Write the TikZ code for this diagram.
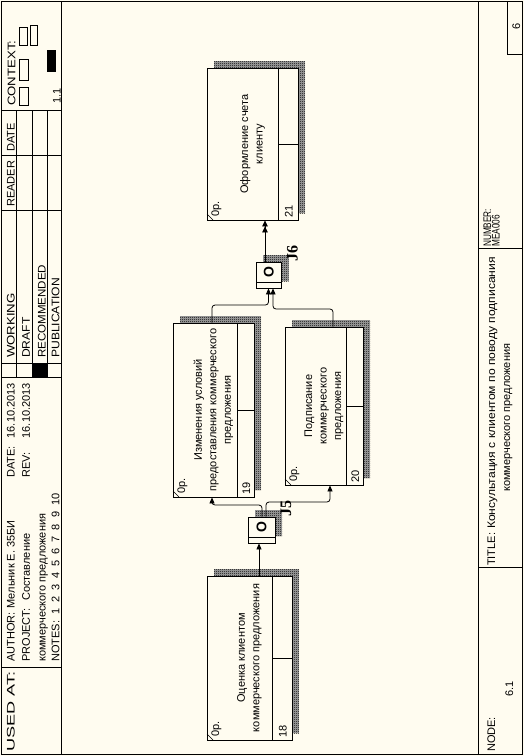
\documentclass[tikz,border=0pt]{standalone}
\usepackage{fontspec}
\usepackage{graphicx}
\setmainfont{Liberation Sans}
\newfontfamily\jfont{Liberation Serif}
\usetikzlibrary{arrows.meta,patterns}
\definecolor{bg}{RGB}{255,252,240}
\pgfdeclarepatternformonly{checker}{\pgfqpoint{0pt}{0pt}}{\pgfqpoint{2pt}{2pt}}{\pgfqpoint{2pt}{2pt}}{%
  \pgfpathrectangle{\pgfqpoint{0pt}{0pt}}{\pgfqpoint{1pt}{1pt}}%
  \pgfpathrectangle{\pgfqpoint{1pt}{1pt}}{\pgfqpoint{1pt}{1pt}}%
  \pgfusepath{fill}}
\tikzset{
  ln/.style={line width=0.8pt},
  ftxt/.style={rotate=90, anchor=base west, inner sep=0pt, font=\fontsize{11}{13}\selectfont},
  fend/.style={rotate=90, anchor=base east, inner sep=0pt, font=\fontsize{11}{13}\selectfont},
  btxt/.style={rotate=90, align=center, inner sep=0pt, font=\fontsize{11}{14.5}\selectfont},
  uob/.style={draw, line width=0.8pt, fill=bg, inner sep=0pt},
  hatch/.style={pattern=checker, pattern color=black},
  arr/.style={line width=0.8pt, rounded corners=3pt, -{Triangle[length=6pt,width=5pt]}},
  arrtwo/.style={line width=0.8pt, -{Triangle[length=6pt,width=5.5pt,sep=0pt]Triangle[length=6pt,width=5.5pt]}},
  jtxt/.style={rotate=90, inner sep=0pt, font=\bfseries\fontsize{14}{14}\selectfont},
  jlab/.style={rotate=90, inner sep=0pt, font=\jfont\bfseries\fontsize{16}{16}\selectfont},
}
\newcommand\wide[2]{\scalebox{#1}[1]{#2}}
% #1 name, #2 x0, #3 y0, #4 x1, #5 y1, #6 strip x, #7 text, #8 number
\newcommand\UOB[8]{%
  \fill[black!35] ({#2+7},{#3-7}) rectangle ({#4+7},{#5-7});
  \fill[hatch] ({#2+7},{#3-7}) rectangle ({#4+7},{#5-7});
  \node[uob, minimum width={(#4-#2)*1pt}, minimum height={(#5-#3)*1pt}] (#1) at ({(#2+#4)/2},{(#3+#5)/2}) {};
  \draw[ln] (#6,#3) -- (#6,#5);
  \draw[ln] (#6,{(#3+#5)/2}) -- (#4,{(#3+#5)/2});
  \draw[line width=0.5pt] (#2,{#5-6}) -- ({#2+6},#5);
  \node[btxt] (#1-t) at (#1.center) {#7};
  \node[ftxt] (#1-op) at ({#2+12},{#5-3}) {0р.};
  \node[ftxt] (#1-n) at ({(#6+#4)/2+4.5},{#5-2}) {#8};
}
% #1 name, #2 x0, #3 y0, #4 x1, #5 y1, #6 label
\newcommand\JUNC[6]{%
  \fill[black!35] ({#2+7},{#3-7}) rectangle ({#4+7},{#5-7});
  \fill[hatch] ({#2+7},{#3-7}) rectangle ({#4+7},{#5-7});
  \node[uob, minimum width={(#4-#2)*1pt}, minimum height={(#5-#3)*1pt}] (#1) at ({(#2+#4)/2},{(#3+#5)/2}) {};
  \draw[ln] (#2,{#5-5.5}) -- (#4,{#5-5.5});
  \node[jtxt] (#1-o) at ({(#2+#4)/2},{(#3+#5)/2-2.5}) {O};
  \node[jlab] (#1-l) at ({#4+11},{#3-9}) {#6};
}
\begin{document}
\begin{tikzpicture}[x=1pt,y=-1pt]
\useasboundingbox (0,0) rectangle (524,756);
\fill[bg] (0,0) rectangle (524,756);
% ---------- frame ----------
\draw[ln] (1.5,1.5) rectangle (522,754.5);
\draw[ln] (61.5,1.5) -- (61.5,754.5);
\draw[ln] (478,1.5) -- (478,754.5);
\foreach \yy in {110,155,210,363,377,667} \draw[ln] (1.5,\yy) -- (61.5,\yy);
\foreach \xx in {16,32,47} \draw[ln] (\xx,110) -- (\xx,377);
\fill (32,363) rectangle (47,377);
\draw[ln] (19,27) rectangle (27,45);
\draw[ln] (30,25) rectangle (37,45);
\draw[ln] (19,59) rectangle (28,80);
\draw[ln] (19,87) rectangle (28,105);
\fill (47,50) rectangle (56,72);
\draw[ln] (478,248) -- (522,248);
\draw[ln] (478,567) -- (522,567);
\draw[ln] (507,1.5) -- (507,54) -- (522,54);
% left strip texts
\node[ftxt] (usedat) at (14.5,752) {\wide{1.65}{USED AT:}};
\node[ftxt] (author) at (14.5,662) {AUTHOR:\hspace{4pt}Мельник Е. 35БИ};
\node[ftxt] (datel) at (14.5,478) {DATE:};
\node[fend] (datev) at (14.5,383) {16.10.2013};
\node[ftxt] (project) at (30,662) {PROJECT:\hspace{8pt}Составление};
\node[ftxt] (revl) at (30,478) {REV:};
\node[fend] (revv) at (30,383) {16.10.2013};
\node[ftxt] (proj2) at (45.5,662) {коммерческого предложения};
\node[ftxt] (notes) at (59.5,662) {NOTES:\hspace{6pt}1\hspace{6pt}2\hspace{6pt}3\hspace{6pt}4\hspace{6pt}5\hspace{6pt}6\hspace{6pt}7\hspace{6pt}8\hspace{6pt}9\hspace{6pt}10};
\node[ftxt] (working) at (14.5,358) {\wide{1.2}{WORKING}};
\node[ftxt] (draft) at (30,358) {\wide{1.1}{DRAFT}};
\node[ftxt] (recom) at (45.5,358) {\wide{1.05}{RECOMMENDED}};
\node[ftxt] (public) at (59.5,358) {\wide{1.1}{PUBLICATION}};
\node[ftxt] (reader) at (14.5,207) {READER};
\node[ftxt] (rdate) at (14.5,152) {DATE};
\node[ftxt] (context) at (15.5,106) {\wide{1.2}{CONTEXT:}};
\node[ftxt] (ctxnum) at (60.5,104) {1.1};
% right strip texts
\node[ftxt] (nodel) at (495,752) {NODE:};
\node[ftxt] (nodev) at (513,697) {6.1};
\node[ftxt] (titlel) at (495,566) {TITLE:};
\node[ftxt] (title1) at (495,529) {\wide{1.1}{Консультация с клиентом по поводу подписания}};
\node[ftxt] (title2) at (510,492) {коммерческого предложения};
\node[ftxt] (numl) at (491,247) {\wide{0.75}{NUMBER:}};
\node[ftxt] (numv) at (499.5,247) {\wide{0.75}{MEA006}};
\node[rotate=90, anchor=base, inner sep=0pt, font=\fontsize{11}{13}\selectfont] (pagenum) at (520,26) {6};
% ---------- boxes ----------
\UOB{b21}{207}{68}{298}{220}{278}{Оформление счета\\клиенту}{21}
\UOB{b19}{173}{323}{254}{497}{237}{Изменения условий\\предоставления коммерческого\\предложения}{19}
\UOB{b20}{285}{327}{363}{485}{346}{Подписание\\коммерческого\\предложения}{20}
\UOB{b18}{207}{576}{292}{740}{272}{Оценка клиентом\\коммерческого предложения}{18}
\JUNC{j5}{248}{517}{275}{543}{J5}
\JUNC{j6}{256}{262}{281.5}{288}{J6}
% ---------- connectors ----------
\coordinate (k0) at (259,560);
\coordinate (k1) at (262,505);
\coordinate (k2) at (212,505);
\coordinate (k3) at (266,502);
\coordinate (k4) at (330,502);
\coordinate (k5) at (212,305);
\coordinate (k6) at (268.5,305);
\coordinate (k7) at (333,309);
\coordinate (k8) at (273,309);
\coordinate (k9) at (265,240);
\draw[arr] (b18.north -| k0) -- (j5.south -| k0);
\draw[arr] (j5.north -| k1) -- (k1) -- (k2) -- (b19.south -| k2);
\draw[arr] (j5.north -| k3) -- (k3) -- (k4) -- (b20.south -| k4);
\draw[arr] (b19.north -| k5) -- (k5) -- (k6) -- (j6.south -| k6);
\draw[arr] (b20.north -| k7) -- (k7) -- (k8) -- (j6.south -| k8);
\draw[arrtwo] (j6.north -| k9) -- (b21.south -| k9);
\end{tikzpicture}
\end{document}
